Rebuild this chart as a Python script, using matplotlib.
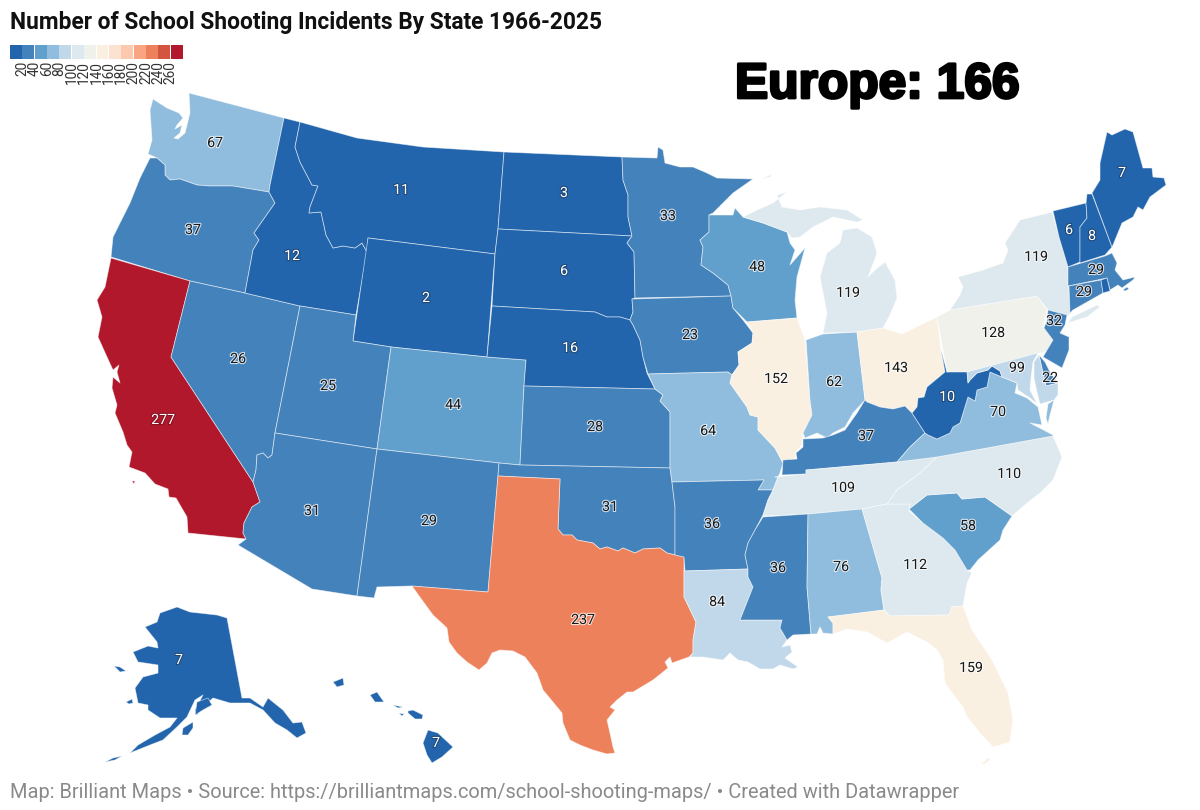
import matplotlib
matplotlib.use("Agg")
import matplotlib.pyplot as plt
import matplotlib.patheffects as pe
from matplotlib.colors import BoundaryNorm, ListedColormap
from matplotlib.patches import Polygon, Rectangle

TITLE = "Number of School Shooting Incidents By State 1966-2025"
FOOTER = "Map: Brilliant Maps \u2022 Source: https://brilliantmaps.com/school-shooting-maps/ \u2022 Created with Datawrapper"
CALLOUT = "Europe: 166"

# incidents per state, RI has no label in the picture so its value is a guess
STATES = ["WA", "OR", "CA", "NV", "ID", "MT", "WY", "UT", "CO", "AZ", "NM", "ND", "SD", "NE", "KS",
          "OK", "TX", "MN", "IA", "MO", "AR", "LA", "WI", "IL", "IN", "MI", "OH", "KY", "TN", "MS",
          "AL", "GA", "FL", "SC", "NC", "VA", "WV", "PA", "NY", "VT", "NH", "ME", "MA", "CT", "RI",
          "NJ", "DE", "MD", "AK", "HI"]
COUNTS = [67, 37, 277, 26, 12, 11, 2, 25, 44, 31, 29, 3, 6, 16, 28,
          31, 237, 33, 23, 64, 36, 84, 48, 152, 62, 119, 143, 37, 109, 36,
          76, 112, 159, 58, 110, 70, 10, 128, 119, 6, 8, 7, 29, 29, 5,
          32, 22, 99, 7, 7]

LEGEND_TICKS = [20, 40, 60, 80, 100, 120, 140, 160, 180, 200, 220, 240, 260]
LEGEND_COLORS = ["#2265ac", "#4482bb", "#61a0cc", "#90bddd", "#c0d8ea", "#dde9ef", "#f0f1ea",
                 "#f9f0e2", "#fce2d1", "#fdc9ac", "#f9a582", "#ed815c", "#d1553f", "#b2182b"]

# where each number sits
LABEL_XY = {
    "WA": (215, 143), "OR": (193, 230), "CA": (163, 420), "NV": (238, 359), "ID": (292, 256),
    "MT": (401, 190), "WY": (426, 298), "UT": (328, 386), "CO": (453, 405), "AZ": (312, 511),
    "NM": (429, 521), "ND": (564, 193), "SD": (564, 271), "NE": (570, 348), "KS": (595, 427),
    "OK": (610, 507), "TX": (583, 620), "MN": (668, 216), "IA": (690, 335), "MO": (708, 431),
    "AR": (712, 524), "LA": (717, 602), "WI": (757, 267), "IL": (776, 379), "IN": (834, 382),
    "MI": (848, 293), "OH": (896, 368), "KY": (866, 436), "TN": (843, 488), "MS": (778, 568),
    "AL": (841, 567), "GA": (915, 565), "FL": (971, 668), "SC": (968, 526), "NC": (1009, 474),
    "VA": (998, 412), "WV": (947, 397), "PA": (993, 333), "NY": (1036, 257), "VT": (1069, 230),
    "NH": (1092, 236), "ME": (1122, 173), "MA": (1096, 270), "CT": (1084, 292), "NJ": (1054, 321),
    "DE": (1050, 378), "MD": (1017, 368), "AK": (179, 660), "HI": (436, 743),
}

# state outlines, in picture pixels
OUTLINES = {
    "WA": [[(189, 93), (284, 118), (270, 185), (269, 192), (233, 186), (210, 186), (197, 185), (180, 179),
            (170, 180), (165, 175), (165, 165), (157, 158), (148, 154), (152, 140), (150, 110), (153, 99),
            (167, 108), (179, 113), (183, 118), (177, 125), (175, 129), (182, 125), (180, 133), (174, 138),
            (178, 139), (185, 133), (190, 113)]],
    "OR": [[(157, 158), (150, 158), (140, 178), (130, 203), (120, 223), (113, 237), (111, 257), (190, 281),
            (245, 293), (253, 250), (259, 240), (254, 233), (275, 203), (269, 192), (233, 186), (210, 186),
            (197, 185), (180, 179), (170, 180), (165, 175), (165, 165)]],
    "CA": [[(111, 258), (190, 281), (171, 357), (253, 482), (260, 502), (252, 507), (244, 523), (243, 533),
            (246, 539), (188, 533), (187, 517), (176, 498), (169, 497), (168, 489), (155, 484), (145, 473),
            (129, 467), (132, 452), (127, 445), (123, 432), (115, 413), (117, 405), (112, 388), (113, 377),
            (120, 383), (117, 372), (119, 365), (113, 370), (107, 357), (98, 337), (102, 317), (97, 300),
            (105, 287)],
           [(132, 481), (135, 481), (134, 484)]],
    "NV": [[(190, 281), (245, 293), (300, 306), (275, 433), (272, 455), (268, 458), (263, 453), (257, 455),
            (256, 470), (253, 482), (171, 357)]],
    "ID": [[(284, 118), (300, 122), (295, 147), (300, 162), (312, 185), (318, 186), (310, 207), (309, 213),
            (321, 212), (326, 235), (333, 248), (343, 246), (355, 248), (362, 243), (367, 252), (356, 315),
            (300, 306), (245, 293), (253, 250), (259, 240), (254, 233), (275, 203), (269, 192), (270, 185)]],
    "MT": [[(300, 122), (357, 138), (423, 147), (504, 152), (498, 229), (495, 254), (368, 238), (367, 252),
            (362, 243), (355, 248), (343, 246), (333, 248), (326, 235), (321, 212), (309, 213), (310, 207),
            (318, 186), (312, 185), (300, 162), (295, 147)]],
    "WY": [[(368, 238), (495, 254), (487, 357), (391, 347), (353, 341)]],
    "UT": [[(300, 306), (356, 315), (353, 341), (391, 347), (377, 449), (275, 433)]],
    "CO": [[(391, 347), (487, 357), (526, 360), (524, 386), (520, 465), (499, 463), (377, 449)]],
    "AZ": [[(275, 433), (377, 449), (357, 596), (312, 589), (238, 545), (246, 539), (243, 533), (244, 523),
            (252, 507), (260, 502), (253, 482), (256, 470), (257, 455), (263, 453), (268, 458), (272, 455)]],
    "NM": [[(377, 449), (499, 463), (498, 476), (488, 592), (411, 586), (377, 587), (374, 598), (357, 596)]],
    "ND": [[(504, 152), (622, 157), (623, 180), (628, 195), (628, 217), (632, 236), (498, 229)]],
    "SD": [[(498, 229), (632, 236), (627, 243), (634, 252), (635, 298), (632, 299), (633, 312), (630, 320),
            (620, 317), (607, 317), (595, 312), (492, 306), (495, 254)]],
    "NE": [[(492, 306), (595, 312), (607, 317), (620, 317), (630, 320), (633, 325), (640, 340), (643, 357),
            (647, 373), (655, 389), (524, 386), (526, 360), (487, 357)]],
    "KS": [[(524, 386), (655, 389), (663, 395), (660, 401), (670, 412), (670, 468), (520, 465)]],
    "OK": [[(499, 463), (520, 465), (670, 468), (672, 482), (675, 507), (675, 555), (684, 557), (667, 553),
            (660, 548), (643, 549), (635, 553), (623, 548), (618, 551), (607, 547), (600, 549), (593, 543),
            (577, 540), (572, 535), (563, 535), (558, 529), (560, 479), (498, 476)]],
    "TX": [[(498, 476), (560, 479), (558, 529), (563, 535), (572, 535), (577, 540), (593, 543), (600, 549),
            (607, 547), (618, 551), (623, 548), (635, 553), (643, 549), (660, 548), (667, 553), (684, 557),
            (684, 597), (696, 622), (693, 640), (693, 653), (689, 657), (672, 663), (670, 657), (665, 662),
            (668, 668), (653, 680), (633, 692), (627, 692), (617, 700), (610, 707), (615, 710), (607, 720),
            (610, 733), (613, 747), (615, 753), (607, 754), (593, 750), (580, 745), (570, 740), (563, 723),
            (562, 713), (553, 702), (543, 690), (537, 673), (525, 657), (513, 651), (500, 650), (492, 653),
            (487, 663), (479, 670), (467, 662), (457, 653), (449, 642), (447, 628), (433, 615), (422, 600),
            (412, 586), (488, 592)]],
    "MN": [[(622, 157), (657, 158), (658, 147), (663, 150), (665, 163), (680, 167), (693, 167), (707, 173),
            (717, 178), (753, 179), (733, 193), (713, 213), (709, 215), (709, 232), (700, 240), (703, 247),
            (701, 265), (713, 273), (728, 285), (731, 296), (635, 298), (634, 252), (627, 243), (632, 236),
            (628, 217), (628, 195), (623, 180)]],
    "IA": [[(632, 299), (731, 296), (733, 308), (743, 320), (753, 333), (752, 343), (738, 352), (739, 365),
            (732, 375), (728, 372), (648, 374), (643, 357), (640, 340), (633, 325), (630, 320), (633, 312)]],
    "MO": [[(648, 374), (728, 372), (732, 375), (730, 383), (747, 407), (750, 415), (758, 417), (758, 430),
            (775, 448), (783, 463), (780, 473), (778, 477), (773, 490), (758, 490), (764, 480), (672, 482),
            (670, 468), (670, 412), (660, 401), (663, 395), (655, 389)]],
    "AR": [[(672, 482), (764, 480), (758, 490), (773, 490), (768, 500), (763, 515), (755, 530), (748, 543),
            (745, 555), (748, 569), (685, 571), (684, 557), (675, 555), (675, 507)]],
    "LA": [[(685, 571), (748, 569), (748, 577), (753, 587), (740, 620), (782, 620), (780, 628), (787, 640),
            (782, 647), (790, 645), (792, 652), (785, 658), (798, 667), (793, 669), (780, 665), (773, 669),
            (760, 669), (748, 662), (738, 660), (730, 653), (723, 660), (703, 657), (690, 657), (693, 653),
            (693, 640), (696, 622), (684, 597), (684, 571)]],
    "WI": [[(709, 215), (733, 215), (735, 208), (743, 217), (763, 223), (787, 232), (790, 243), (795, 250),
            (790, 265), (805, 248), (797, 277), (795, 300), (797, 318), (747, 322), (733, 308), (731, 296),
            (728, 285), (713, 273), (701, 265), (703, 247), (700, 240), (709, 232)]],
    "IL": [[(747, 322), (797, 318), (805, 340), (810, 400), (812, 415), (803, 433), (802, 445), (797, 450),
            (795, 458), (783, 463), (775, 448), (758, 430), (758, 417), (750, 415), (747, 407), (730, 383),
            (732, 375), (739, 365), (738, 352), (752, 343), (753, 333)]],
    "IN": [[(806, 340), (823, 334), (857, 332), (865, 400), (853, 413), (845, 427), (833, 433), (827, 438),
            (817, 433), (805, 438), (803, 433), (812, 415), (810, 400)]],
    "MI": [[(823, 333), (857, 332), (883, 328), (890, 315), (897, 298), (895, 280), (885, 262), (875, 270),
            (868, 277), (877, 253), (872, 237), (857, 228), (843, 230), (840, 243), (827, 253), (820, 277),
            (827, 313)],
           [(743, 217), (757, 210), (773, 203), (787, 192), (777, 195), (782, 207), (800, 210), (820, 207),
            (847, 210), (863, 220), (857, 222), (833, 217), (813, 227), (800, 237), (792, 238), (787, 232),
            (763, 223)],
           [(762, 179), (772, 174), (770, 177)]],
    "OH": [[(857, 332), (883, 328), (902, 334), (937, 317), (941, 350), (945, 372), (927, 387), (924, 397),
            (918, 398), (917, 407), (912, 413), (905, 406), (893, 409), (880, 407), (867, 402), (865, 400)]],
    "KY": [[(782, 475), (783, 460), (797, 459), (796, 453), (803, 447), (803, 439), (823, 438), (833, 435),
            (845, 430), (857, 413), (865, 400), (867, 402), (880, 407), (893, 409), (905, 406), (912, 413),
            (925, 433), (910, 447), (897, 462), (806, 470), (806, 474)]],
    "TN": [[(775, 477), (806, 474), (806, 470), (897, 462), (937, 457), (920, 473), (897, 490), (887, 504),
            (862, 509), (808, 514), (763, 516), (768, 500), (773, 490), (778, 477)]],
    "MS": [[(763, 517), (808, 514), (807, 587), (811, 634), (793, 635), (787, 640), (780, 628), (782, 620),
            (740, 620), (753, 587), (748, 577), (748, 569), (745, 555), (748, 543), (755, 530)]],
    "AL": [[(808, 514), (862, 509), (882, 578), (881, 590), (884, 610), (828, 617), (833, 623), (833, 634),
            (823, 633), (820, 627), (817, 634), (811, 634), (807, 587)]],
    "GA": [[(862, 509), (887, 504), (910, 504), (909, 511), (923, 523), (943, 538), (955, 550), (967, 570),
            (972, 573), (967, 583), (963, 606), (952, 607), (949, 615), (890, 616), (884, 610), (881, 590),
            (882, 578)]],
    "FL": [[(828, 617), (884, 610), (890, 616), (949, 615), (952, 607), (963, 606), (972, 630), (992, 660),
            (1008, 693), (1013, 720), (1010, 742), (993, 747), (980, 733), (967, 717), (963, 707), (950, 690),
            (945, 683), (943, 660), (937, 650), (927, 642), (907, 632), (887, 643), (867, 632), (847, 629),
            (833, 634), (833, 623)],
           [(981, 764), (988, 758), (991, 759), (985, 764)]],
    "SC": [[(909, 509), (927, 495), (957, 493), (962, 499), (985, 497), (1012, 516), (1003, 530), (1000, 540),
            (978, 560), (970, 570), (967, 570), (955, 550), (943, 538), (923, 523)]],
    "NC": [[(937, 457), (1053, 436), (1062, 457), (1053, 480), (1040, 493), (1027, 503), (1012, 516), (985, 497),
            (962, 499), (957, 493), (927, 495), (909, 509), (910, 504), (887, 504), (897, 490), (920, 473)]],
    "VA": [[(897, 462), (910, 447), (925, 433), (928, 435), (937, 439), (950, 433), (953, 427), (960, 423),
            (968, 397), (975, 401), (977, 390), (987, 387), (990, 372), (1002, 377), (1017, 383), (1015, 393),
            (1027, 398), (1038, 407), (1042, 425), (1030, 423), (1053, 435), (1053, 436), (937, 457)],
           [(1054, 400), (1050, 415), (1048, 424), (1046, 418), (1048, 404)]],
    "WV": [[(941, 350), (947, 372), (967, 369), (968, 383), (970, 380), (977, 373), (988, 370), (992, 366),
            (1000, 371), (1002, 377), (990, 372), (987, 387), (977, 390), (975, 401), (968, 397), (960, 423),
            (953, 427), (950, 433), (937, 439), (928, 435), (925, 433), (912, 413), (917, 407), (918, 398),
            (924, 397), (927, 387), (945, 372)]],
    "PA": [[(937, 317), (950, 310), (1037, 296), (1047, 310), (1043, 327), (1053, 337), (1052, 350), (1040, 353),
            (967, 372), (947, 372)]],
    "NY": [[(950, 310), (960, 295), (963, 287), (958, 277), (983, 270), (1003, 263), (1008, 250), (1005, 243),
            (1020, 220), (1052, 212), (1059, 237), (1068, 267), (1069, 287), (1070, 310), (1071, 313), (1067, 316),
            (1048, 310), (1037, 296)],
           [(1068, 323), (1072, 317), (1097, 305), (1100, 307), (1087, 317)]],
    "VT": [[(1053, 211), (1086, 203), (1087, 218), (1080, 227), (1080, 262), (1068, 267), (1059, 237)]],
    "NH": [[(1086, 203), (1087, 194), (1092, 194), (1112, 247), (1105, 255), (1080, 263), (1080, 227), (1087, 218)]],
    "ME": [[(1092, 193), (1100, 180), (1100, 163), (1107, 132), (1112, 135), (1125, 129), (1133, 132), (1143, 168),
            (1152, 168), (1153, 177), (1164, 178), (1166, 185), (1150, 197), (1143, 210), (1138, 207), (1133, 217),
            (1122, 223), (1113, 245), (1112, 247)]],
    "MA": [[(1068, 267), (1105, 256), (1112, 253), (1117, 263), (1115, 270), (1123, 280), (1135, 277), (1133, 280),
            (1122, 288), (1118, 285), (1110, 290), (1107, 278), (1068, 286)],
           [(1123, 290), (1127, 287), (1129, 289), (1125, 291)]],
    "CT": [[(1069, 286), (1101, 280), (1103, 293), (1073, 310), (1070, 313)]],
    "RI": [[(1101, 280), (1107, 278), (1110, 291), (1103, 293)]],
    "NJ": [[(1048, 310), (1067, 315), (1065, 325), (1060, 333), (1069, 337), (1069, 350), (1062, 368), (1043, 357),
            (1053, 340), (1044, 328), (1047, 320)]],
    "DE": [[(1039, 355), (1045, 362), (1050, 372), (1058, 383), (1046, 386), (1043, 373)]],
    "MD": [[(967, 372), (1038, 353), (1033, 362), (1031, 378), (1030, 390), (1037, 404), (1030, 398), (1018, 390),
            (1017, 383), (1002, 377), (1000, 371), (992, 366), (988, 370), (977, 373), (970, 380), (968, 383)],
           [(1039, 355), (1043, 373), (1046, 386), (1058, 383), (1058, 395), (1054, 400), (1040, 404), (1037, 392),
            (1034, 378), (1034, 362)]],
    "AK": [[(177, 607), (190, 612), (217, 615), (227, 618), (242, 698), (250, 698), (263, 707), (268, 698),
            (283, 710), (293, 723), (302, 722), (306, 733), (297, 738), (287, 730), (275, 723), (263, 710),
            (250, 703), (230, 703), (213, 698), (205, 705), (197, 715), (195, 710), (203, 695), (195, 700),
            (187, 717), (177, 727), (163, 740), (150, 745), (130, 753), (138, 745), (155, 735), (170, 727),
            (177, 718), (160, 718), (148, 710), (148, 705), (138, 703), (135, 688), (143, 677), (158, 673),
            (158, 665), (138, 662), (133, 652), (148, 646), (158, 648), (157, 642), (145, 627), (157, 622),
            (160, 613)],
           [(195, 715), (197, 702), (208, 698), (212, 705), (203, 710)],
           [(182, 735), (183, 728), (193, 722), (193, 728), (188, 735)],
           [(105, 762), (113, 758), (122, 756), (115, 760)],
           [(114, 666), (120, 667), (126, 671), (120, 672)],
           [(126, 702), (132, 699), (133, 703), (129, 704)]],
    "HI": [[(428, 730), (438, 733), (453, 747), (442, 757), (432, 763), (427, 755), (423, 743)],
           [(408, 711), (413, 710), (423, 715), (422, 719), (415, 719), (408, 713)],
           [(393, 705), (403, 707), (398, 708)],
           [(399, 713), (404, 714), (402, 716)],
           [(370, 695), (377, 692), (384, 702), (375, 702)],
           [(333, 682), (343, 678), (344, 685), (337, 687)]],
}

DARK_BINS = {2, 6, 3, 7, 8, 10, 11, 12, 16, 277}  # these get white numbers


def draw_states(ax, cmap, norm):
    for state, count in zip(STATES, COUNTS):
        color = cmap(norm(count))
        for ring in OUTLINES[state]:
            ax.add_patch(Polygon(ring, closed=True, facecolor=color, edgecolor=(1, 1, 1, 0.55),
                                 linewidth=0.6, joinstyle="round"))


def draw_numbers(ax):
    for state, count in zip(STATES, COUNTS):
        if state not in LABEL_XY:
            continue
        x, y = LABEL_XY[state]
        if count in DARK_BINS:
            col, halo = "white", "#1f3f66"
        else:
            col, halo = "#1a1a1a", "#ffffff"
        if count == 277:
            halo = "#7a1020"
        ax.text(x, y, str(count), ha="center", va="center", fontsize=10.2, color=col, family="Roboto",
                path_effects=[pe.withStroke(linewidth=1.6, foreground=halo, alpha=0.75)])


def draw_legend(ax):
    left, top, box_w, box_h = 10, 45, 12.36, 14
    for i, color in enumerate(LEGEND_COLORS):
        ax.add_patch(Rectangle((left + i * box_w, top), box_w - 0.4, box_h, facecolor=color, edgecolor="none"))
    for i, tick in enumerate(LEGEND_TICKS):
        ax.text(left + (i + 1) * box_w, top + box_h + 2, str(tick), rotation=90, ha="center", va="top",
                fontsize=9.8, color="#333333", family="Roboto")


fig = plt.figure(figsize=(12, 8.1), dpi=100)
ax = fig.add_axes([0, 0, 1, 1])
ax.set_xlim(0, 1200)
ax.set_ylim(810, 0)
ax.axis("off")

bounds = [0] + LEGEND_TICKS + [300]
cmap = ListedColormap(LEGEND_COLORS)
norm = BoundaryNorm(bounds, cmap.N)

draw_states(ax, cmap, norm)
draw_numbers(ax)
draw_legend(ax)

ax.text(10, 23, TITLE, fontsize=16.4, fontweight="bold", family="Roboto", color="#111111", va="center", ha="left")
ax.text(735, 85, CALLOUT, fontsize=35.8, fontweight="bold", family="Liberation Sans", color="black", va="center", ha="left",
        path_effects=[pe.withStroke(linewidth=2.0, foreground="black")])
ax.text(10, 793, FOOTER, fontsize=14.45, family="Roboto", color="#8a8a8a", va="center", ha="left")

fig.savefig("out.png", dpi=100)
